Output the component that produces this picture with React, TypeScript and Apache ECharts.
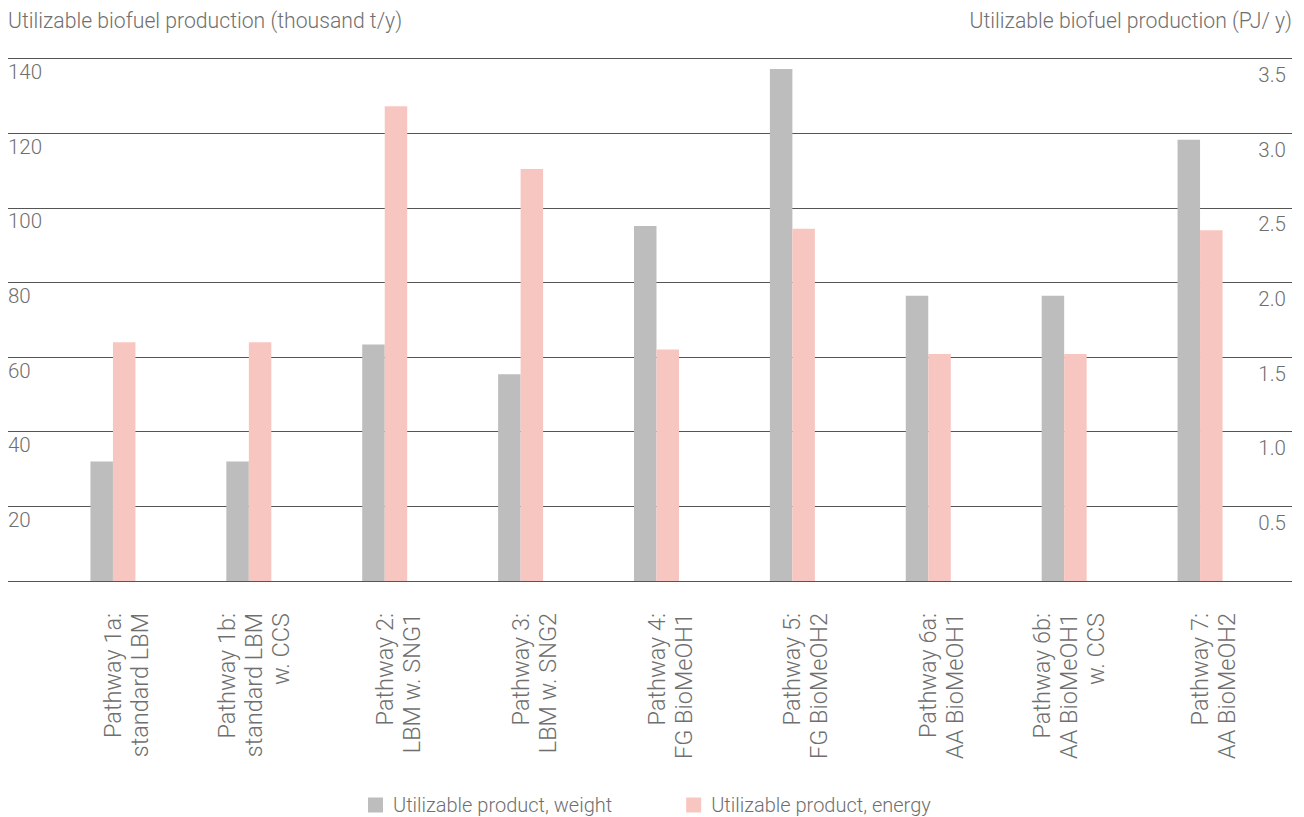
import React, { useEffect, useRef } from "react";
import * as echarts from "echarts";

// Pathway names (line breaks as printed under each pair of bars)
const categories = [
  "Pathway 1a:\nstandard LBM",
  "Pathway 1b:\nstandard LBM\nw. CCS",
  "Pathway 2:\nLBM w. SNG1",
  "Pathway 3:\nLBM w. SNG2",
  "Pathway 4:\nFG BioMeOH1",
  "Pathway 5:\nFG BioMeOH2",
  "Pathway 6a:\nAA BioMeOH1",
  "Pathway 6b:\nAA BioMeOH1\nw. CCS",
  "Pathway 7:\nAA BioMeOH2",
];

// Utilizable product by weight, thousand t/y (left axis)
const weightValues = [32.0, 32.0, 63.4, 55.4, 95.1, 137.2, 76.4, 76.4, 118.2];

// Utilizable product by energy, PJ/y (right axis)
const energyValues = [1.6, 1.6, 3.18, 2.76, 1.55, 2.36, 1.52, 1.52, 2.35];

const seriesNames = ["Utilizable product, weight", "Utilizable product, energy"];
const leftAxisName = "Utilizable biofuel production (thousand t/y)";
const rightAxisName = "Utilizable biofuel production (PJ/ y)";

const FONT = "Roboto, 'Liberation Sans', Arial, sans-serif";
const TEXT = "#6f6f6f";
const GRID_LINE = "#555555";
const GREY = "#bdbdbd";
const PINK = "#f8c6c1";

export default function App() {
  const ref = useRef<HTMLDivElement>(null);

  useEffect(() => {
    if (!ref.current) return;
    const chart = echarts.init(ref.current, null, { renderer: "svg" });

    // Two-line names sit one line lower than three-line names
    const labelFormatter = (value: string) => {
      const lines = value.split("\n");
      const lead = lines.length === 2 ? "{g2|\u00a0}" : "{g3|\u00a0}";
      return [lead, ...lines.map((l) => `{t|${l}}`)].join("\n");
    };

    chart.setOption({
      animation: false,
      backgroundColor: "#ffffff",
      textStyle: { fontFamily: FONT, fontWeight: 300, color: TEXT },
      legend: {
        data: seriesNames,
        left: 368,
        top: 795,
        padding: 0,
        icon: "rect",
        itemWidth: 15,
        itemHeight: 15,
        itemGap: 74,
        textStyle: {
          fontFamily: FONT,
          fontWeight: 300,
          fontSize: 20,
          lineHeight: 20,
          color: TEXT,
          padding: [0, 0, 0, 5],
        },
      },
      grid: [
        { left: 8, right: 12, top: 58.5, bottom: 236 },
        { left: 45, right: 36, top: 58.5, bottom: 236 },
      ],
      xAxis: [
        { gridIndex: 0, type: "category", data: categories, show: false },
        {
          gridIndex: 1,
          type: "category",
          data: categories,
          axisLine: { show: false },
          axisTick: { show: false },
          axisLabel: {
            interval: 0,
            rotate: 90,
            margin: 32,
            formatter: labelFormatter,
            rich: {
              t: {
                fontFamily: FONT,
                fontWeight: 300,
                fontSize: 23.5,
                lineHeight: 27,
                color: TEXT,
                align: "right",
              },
              g2: { fontSize: 1, lineHeight: 27 },
              g3: { fontSize: 1, lineHeight: 10 },
            },
          },
        },
      ],
      yAxis: [
        {
          gridIndex: 0,
          type: "value",
          position: "left",
          min: 0,
          max: 140,
          interval: 20,
          name: leftAxisName,
          nameLocation: "end",
          nameGap: 28,
          nameTextStyle: {
            fontFamily: FONT,
            fontWeight: 300,
            fontSize: 21.2,
            color: TEXT,
            align: "left",
            verticalAlign: "bottom",
          },
          axisLine: { show: false },
          axisTick: { show: false },
          splitLine: { show: true, lineStyle: { color: GRID_LINE, width: 1 } },
          axisLabel: {
            inside: true,
            margin: 0,
            verticalAlign: "top",
            padding: [3, 0, 0, 0],
            fontFamily: FONT,
            fontWeight: 300,
            fontSize: 20.5,
            color: TEXT,
            formatter: (v: number) => (v === 0 ? "" : String(v)),
          },
        },
        {
          gridIndex: 0,
          type: "value",
          position: "right",
          min: 0,
          max: 3.5,
          interval: 0.5,
          name: rightAxisName,
          nameLocation: "end",
          nameGap: 28,
          nameTextStyle: {
            fontFamily: FONT,
            fontWeight: 300,
            fontSize: 21.2,
            color: TEXT,
            align: "right",
            verticalAlign: "bottom",
          },
          axisLine: { show: false },
          axisTick: { show: false },
          splitLine: { show: false },
          axisLabel: {
            inside: true,
            margin: 6,
            verticalAlign: "top",
            padding: [6, 0, 0, 0],
            fontFamily: FONT,
            fontWeight: 300,
            fontSize: 20.5,
            color: TEXT,
            formatter: (v: number) => (v === 0 ? "" : v.toFixed(1)),
          },
        },
        { gridIndex: 1, type: "value", min: 0, max: 140, show: false },
        { gridIndex: 1, type: "value", min: 0, max: 3.5, show: false },
      ],
      series: [
        {
          name: seriesNames[0],
          type: "bar",
          xAxisIndex: 1,
          yAxisIndex: 2,
          data: weightValues,
          barWidth: 22.5,
          barGap: "0%",
          itemStyle: { color: GREY },
        },
        {
          name: seriesNames[1],
          type: "bar",
          xAxisIndex: 1,
          yAxisIndex: 3,
          data: energyValues,
          barWidth: 22.5,
          barGap: "0%",
          itemStyle: { color: PINK },
        },
      ],
    });

    return () => chart.dispose();
  }, []);

  return (
    <div
      ref={ref}
      style={{
        position: "fixed",
        left: 0,
        top: 0,
        width: 1304,
        height: 817,
        background: "#ffffff",
      }}
    />
  );
}
